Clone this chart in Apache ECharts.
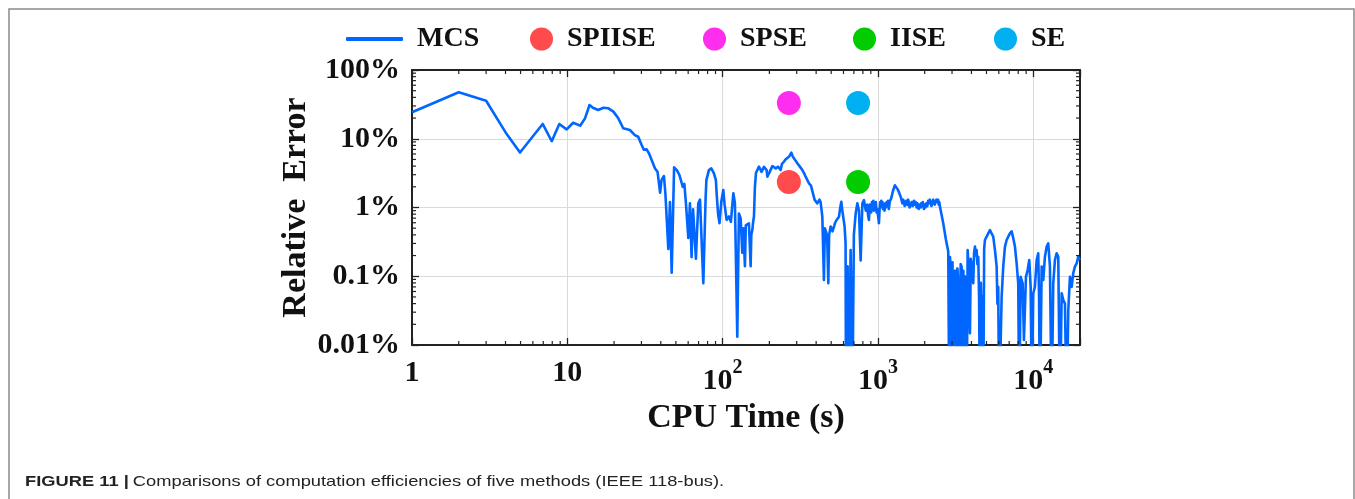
<!DOCTYPE html>
<html><head><meta charset="utf-8">
<script src="https://cdn.jsdelivr.net/npm/echarts@6/dist/echarts.min.js"></script>
<style>html,body{margin:0;padding:0;background:#fff}#c{width:1355px;height:499px}</style>
</head><body><div id="c"></div>
<script>
// ---------- data ----------
const xTickLabels = ['1', '10', '10^2', '10^3', '10^4'];          // exponents 0..4
const yTickLabels = ['0.01%', '0.1%', '1%', '10%', '100%'];        // exponents -2..2
const xMinorTicks = [2,3,4,5,6,7,8,9,20,30,40,50,60,70,80,90,200,300,400,500,600,700,800,900,2000,3000,4000,5000,6000,7000,8000,9000];
const yMinorTicks = [0.02,0.03,0.04,0.05,0.06,0.07,0.08,0.09,0.2,0.3,0.4,0.5,0.6,0.7,0.8,0.9,2,3,4,5,6,7,8,9,20,30,40,50,60,70,80,90];

const methodNames = ['SPIISE', 'SPSE', 'IISE', 'SE'];
const methodTime  = [267, 267, 745, 745];     // CPU time (s)
const methodError = [2.35, 33, 2.35, 33];     // relative error (%)
const methodColors = ['#FF4B4B', '#FF2EEE', '#00CC00', '#00B0F0'];

// MCS: [CPU time (s), relative error (%)]
const mcsPoints = [
[1,24.3],[2,47.4],[3,35.7],[4.07,11.7],[4.96,6.3],[6.94,16.4],[7.94,9.2],[8.88,16.4],[9.9,13.7],[10.9,17.1],[12.1,15.5],[13,19.8],[13.9,31],[14.6,28.3],[15.8,26.2],[17.1,28.3],[18.4,27.7],[19.8,24.8],[21.3,19.8],[22.9,14.2],[25.3,13.4],[27.2,11.3],[28.6,10.7],[30.1,8.1],[31.1,6.9],[32.4,7.0],[33.6,6.1],[36.7,3.7],[38.1,3.3],[39.6,1.64],[40.4,2.5],[41.9,2.87],[42.8,1.6],[44.7,0.25],[45.8,1.2],[47,0.113],[48.7,3.84],[50.7,3.5],[52.7,2.97],[55.4,2.0],[56.7,2.2],[58.1,1.12],[60.1,0.36],[61.6,1.15],[63.1,0.19],[64.5,0.94],[67.3,0.18],[69.7,1.15],[71.5,1.3],[72.8,1.25],[75.1,0.079],[77.7,1.36],[78.6,2.5],[81.6,3.5],[84.6,3.7],[87.9,3.14],[90.5,2.5],[91.5,1.6],[93.5,0.8],[95.5,0.59],[98,1.2],[101,1.8],[103,1.1],[106.1,0.66],[109.8,0.74],[113,0.62],[117.2,1.61],[120,1.15],[124.3,0.0132],[127.3,0.82],[130.6,0.7],[133.9,0.22],[136,0.5],[139.2,0.14],[141,0.55],[144.2,0.53],[147.7,0.59],[151.5,0.14],[153,0.4],[155.3,0.47],[157,0.6],[159.1,0.74],[161.4,2.0],[164,3.2],[167.3,3.5],[171.3,3.93],[175,3.6],[178,3.3],[184.5,3.9],[192,3.5],[194.1,2.81],[201,3.3],[203.8,3.51],[209,4.0],[214,4.15],[220,3.7],[227,3.93],[236.3,3.51],[241,4.3],[248.1,4.63],[254,5.0],[261,4.91],[268,5.5],[277,6.27],[282,5.6],[287.8,5.2],[295,4.8],[302.7,4.39],[315,3.9],[326.1,3.51],[335,3.14],[342.3,2.81],[359.5,2.25],[370,2.1],[378.1,2.01],[391.3,1.29],[407.3,1.15],[420,1.3],[427.6,1.2],[438.5,0.735],[449,0.088],[455,0.5],[460.5,0.53],[467,0.42],[472.2,0.3],[479.2,0.079],[485,0.4],[496.1,0.53],[510,0.45],[521,0.47],[530,0.6],[542.1,0.66],[561,0.735],[572,1.0],[581,1.21],[590,0.9],[598.6,0.92],[610,0.53],[619,0.3],[623,0.001],[638,0.14],[650,0.001],[667,0.24],[684,0.001],[700,0.4],[719,0.82],[737,1.15],[755,0.9],[774,0.17],[794,1.15],[813,1.28],[835,0.9],
[854,1.1],[865,0.75],[875,0.66],[886,1.1],[897,1.15],[905,0.85],[915,1.2],[925,1.0],[935,1.25],[942,0.9],[952,1.15],[960,1.0],[970,1.2],[980,0.85],[991,0.95],[1003,0.75],[1015,0.59],[1025,0.95],[1035,1.2],[1041,1.0],[1050,1.25],[1060,1.1],[1070,1.2],[1080,0.95],[1093,1.1],[1103,0.9],[1115,1.15],[1125,1.0],[1140,1.2],[1150,1.1],[1162,1.25],[1175,0.95],[1190,1.2],[1207,1.15],[1222,1.4],[1238,1.6],[1255,1.8],[1268,1.9],[1285,2.1],[1300,2.12],[1315,1.95],[1330,2.0],[1348,1.8],[1365,1.7],[1383,1.55],[1400,1.44],[1418,1.3],[1436,1.15],[1455,1.3],[1471,1.2],[1486,1.05],[1500,1.15],[1520,1.25],[1547,1.09],[1565,1.3],[1580,1.2],[1600,1.0],[1624,1.08],[1650,1.2],[1675,1.05],[1705,1.25],[1730,1.1],[1750,1.2],[1775,1.0],[1794,1.15],[1815,1.05],[1830,0.95],[1860,1.1],[1884,1.0],[1900,1.15],[1920,1.05],[1945,1.2],[1978,0.95],[2000,1.1],[2020,1.0],[2050,1.15],[2080,1.05],[2105,1.25],[2130,1.15],[2160,1.3],[2185,1.2],[2210,1.05],[2240,1.1],[2270,1.3],[2294,1.25],[2320,1.1],[2350,1.2],[2380,1.3],[2412,1.21],[2440,1.3],[2460,1.1],[2485,1.2],[2507,1.03],
[2633,0.59],[2741,0.34],[2836,0.23],[2880,0.001],[2910,0.19],[2950,0.12],[2983,0.001],[3020,0.16],[3054,0.154],[3090,0.001],[3130,0.12],[3170,0.001],[3212,0.11],[3250,0.13],[3289,0.079],[3330,0.001],[3373,0.018],[3410,0.15],[3459,0.138],[3490,0.001],[3526,0.098],[3550,0.12],[3579,0.001],[3630,0.1],[3687,0.079],[3730,0.001],[3781,0.24],[3820,0.16],[3855,0.138],[3890,0.03],[3913,0.0148],[3960,0.18],[4013,0.192],[4060,0.12],[4109,0.079],[4160,0.22],[4213,0.27],[4270,0.2],[4321,0.24],[4370,0.15],[4425,0.192],[4480,0.05],[4538,0.001],[4600,0.08],[4653,0.018],[4710,0.05],[4764,0.001],[4830,0.25],[4887,0.337],[5011,0.376],[5131,0.42],[5263,0.47],[5397,0.45],[5527,0.376],[5668,0.24],[5812,0.138],[5880,0.04],[5951,0.07],[6030,0.001],[6104,0.001],[6259,0.05],[6409,0.138],[6574,0.27],[6741,0.337],[6902,0.376],[7079,0.42],[7259,0.45],[7433,0.36],[7623,0.27],[7817,0.154],[8005,0.079],[8125,0.001],[8295,0.098],[8545,0.079],[8711,0.0118],[8974,0.098],[9203,0.123],[9424,0.172],[9623,0.07],[9808,0.001],[10000,0.0565],[10250,0.07],[10520,0.172],[10770,0.216],[10900,0.05],[11040,0.001],[11330,0.138],[11600,0.088],[11890,0.192],[12200,0.27],[12490,0.3],[12810,0.138],[13140,0.001],[13450,0.079],[13790,0.172],[14150,0.216],[14490,0.192],[14860,0.001],[15240,0.0565],[15610,0.045],[16000,0.04],[16410,0.001],[16810,0.032],[17230,0.098],[17670,0.07],[18090,0.11],[18550,0.138],[19030,0.154],[19490,0.192],[19980,0.172]
];

const captionBold = 'FIGURE 11 |';
const captionText = 'Comparisons of computation efficiencies of five methods (IEEE 118-bus).';

// ---------- chart ----------
const SERIF = '"Liberation Serif", "Times New Roman", serif';
const SANS = '"Liberation Sans", Arial, sans-serif';
const AX = '#222';
const chart = echarts.init(document.getElementById('c'), null, {renderer: 'canvas'});

function isDecade(v) { const l = Math.log10(v); return Math.abs(l - Math.round(l)) < 1e-6; }

function xLabel(v) {
  if (!isDecade(v)) return '';
  const s = xTickLabels[Math.round(Math.log10(v))];
  if (s === undefined) return '';
  if (s.indexOf('^') >= 0) { const p = s.split('^'); return '{p|' + p[0] + '}{s|' + p[1] + '}'; }
  return '{n|' + s + '}';
}
function yLabel(v) {
  if (!isDecade(v)) return '';
  const s = yTickLabels[Math.round(Math.log10(v)) + 2];
  return s === undefined ? '' : s;
}

const logAxisCommon = {
  type: 'log', logBase: 10,
  axisLine: {show: true, onZero: false, lineStyle: {color: AX, width: 2}},
  axisTick: {show: true, inside: true, length: 7, lineStyle: {color: AX, width: 1.3}},
  minorTick: {show: false}
};

function minorRender(isX) {
  return function (params, api) {
    const cs = params.coordSys;
    const v = api.value(isX ? 0 : 1);
    const len = 4;
    const st = {stroke: AX, lineWidth: 1.2};
    if (isX) {
      const px = api.coord([v, 1])[0];
      return {type: 'group', children: [
        {type: 'line', shape: {x1: px, y1: cs.y + cs.height, x2: px, y2: cs.y + cs.height - len}, style: st},
        {type: 'line', shape: {x1: px, y1: cs.y, x2: px, y2: cs.y + len}, style: st}
      ]};
    } else {
      const py = api.coord([1, v])[1];
      return {type: 'group', children: [
        {type: 'line', shape: {x1: cs.x, y1: py, x2: cs.x + len, y2: py}, style: st},
        {type: 'line', shape: {x1: cs.x + cs.width, y1: py, x2: cs.x + cs.width - len, y2: py}, style: st}
      ]};
    }
  };
}

const legendText = {fontFamily: SERIF, fontWeight: 'bold', fontSize: 28, color: '#111', padding: [0, 0, 0, 9]};
const legendLefts = [525, 698, 848, 989];

const option = {
  backgroundColor: '#fff',
  animation: false,
  grid: {left: 412, right: 275, top: 70, bottom: 154, containLabel: false},
  legend: [
    {data: [{name: 'MCS', icon: 'roundRect'}], left: 341, top: 20, itemWidth: 57, itemHeight: 4, textStyle: legendText, selectedMode: false},
  ].concat(methodNames.map((n, i) => ({
    data: [{name: n, icon: 'circle'}], left: legendLefts[i], top: 20, itemWidth: 23, itemHeight: 23, textStyle: legendText, selectedMode: false
  }))),
  xAxis: [
    Object.assign({}, logAxisCommon, {
      position: 'bottom', min: 1, max: 20000,
      name: 'CPU Time (s)', nameLocation: 'middle', nameGap: 56,
      nameTextStyle: {fontFamily: SERIF, fontWeight: 'bold', fontSize: 34, color: '#111'},
      axisLabel: {
        show: true, margin: 13, formatter: xLabel, color: '#111', verticalAlign: 'top',
        fontFamily: SERIF, fontWeight: 'bold', fontSize: 30,
        rich: {
          n: {fontFamily: SERIF, fontWeight: 'bold', fontSize: 30, lineHeight: 30, color: '#111'},
          p: {fontFamily: SERIF, fontWeight: 'bold', fontSize: 30, lineHeight: 46, color: '#111'},
          s: {fontFamily: SERIF, fontWeight: 'bold', fontSize: 20, lineHeight: 24, color: '#111', verticalAlign: 'top'}
        }
      },
      splitLine: {show: true, lineStyle: {color: '#dadada', width: 1}}
    }),
    Object.assign({}, logAxisCommon, {
      position: 'top', min: 1, max: 20000, axisLabel: {show: false}, splitLine: {show: false}
    })
  ],
  yAxis: [
    Object.assign({}, logAxisCommon, {
      position: 'left', min: 0.01, max: 100,
      name: 'Relative  Error', nameLocation: 'middle', nameGap: 96, nameRotate: 90,
      nameTextStyle: {fontFamily: SERIF, fontWeight: 'bold', fontSize: 34, color: '#111'},
      axisLabel: {show: true, margin: 12, formatter: yLabel, color: '#111', fontFamily: SERIF, fontWeight: 'bold', fontSize: 30},
      splitLine: {show: true, lineStyle: {color: '#dadada', width: 1}}
    }),
    Object.assign({}, logAxisCommon, {
      position: 'right', min: 0.01, max: 100, axisLabel: {show: false}, splitLine: {show: false}
    })
  ],
  series: [
    {
      name: 'MCS', type: 'line', xAxisIndex: 0, yAxisIndex: 0,
      data: mcsPoints, showSymbol: false, symbol: 'none', clip: true, z: 3,
      lineStyle: {color: '#0066FF', width: 2.6, join: 'round'},
      itemStyle: {color: '#0066FF'}
    }
  ].concat(methodNames.map((n, i) => ({
    name: n, type: 'scatter', xAxisIndex: 0, yAxisIndex: 0,
    data: [[methodTime[i], methodError[i]]], symbol: 'circle', symbolSize: 24, z: 5,
    itemStyle: {color: methodColors[i], opacity: 1}
  }))).concat([
    {type: 'custom', xAxisIndex: 0, yAxisIndex: 0, data: xMinorTicks.map(v => [v, 1]), renderItem: minorRender(true), silent: true, z: 6, clip: false},
    {type: 'custom', xAxisIndex: 0, yAxisIndex: 0, data: yMinorTicks.map(v => [1, v]), renderItem: minorRender(false), silent: true, z: 6, clip: false}
  ]),
  graphic: [
    {type: 'rect', shape: {x: 9, y: 9, width: 1345, height: 600},
     style: {fill: 'none', stroke: '#8a8a8a', lineWidth: 1.5}, silent: true, z: -1},
    {type: 'text', x: 25, y: 474, scaleX: 1.22, originX: 0, silent: true,
     style: {
       text: '{b|' + captionBold + '} {r|' + captionText + '}',
       rich: {
         b: {fontFamily: SANS, fontWeight: 'bold', fontSize: 15, fill: '#222'},
         r: {fontFamily: SANS, fontSize: 15, fill: '#222'}
       }
     }}
  ]
};
chart.setOption(option);
</script>
</body></html>
